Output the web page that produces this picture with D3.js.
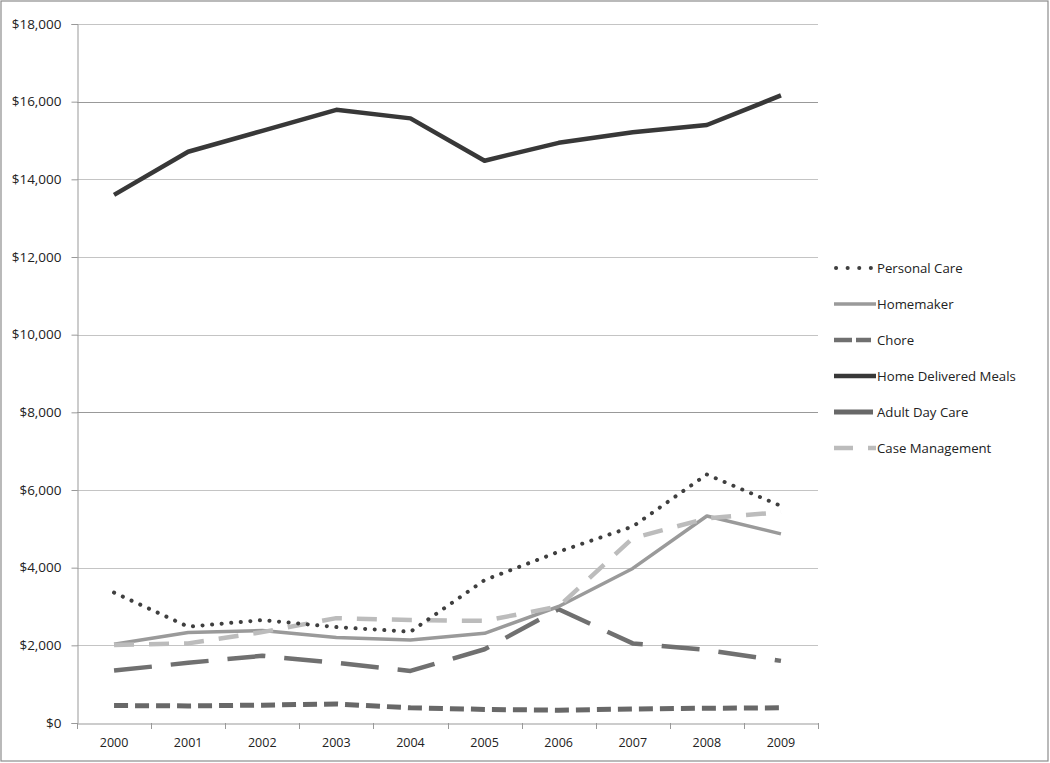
<!DOCTYPE html>
<html><head><meta charset="utf-8">
<script src="https://cdn.jsdelivr.net/npm/d3@7"></script>
<style>
body{margin:0;background:#fff;}
svg{display:block;}
text{font-family:"Open Sans","Liberation Sans",sans-serif;fill:#222;}
</style></head>
<body><svg id="chart" width="1050" height="763"></svg>
<script>
const years = ["2000","2001","2002","2003","2004","2005","2006","2007","2008","2009"];
const seriesNames = ["Personal Care","Homemaker","Chore","Home Delivered Meals","Adult Day Care","Case Management"];
const personalCare = [3360,2480,2650,2470,2350,3680,4410,5060,6400,5590];
const homemaker = [2030,2330,2380,2200,2140,2310,3000,3980,5330,4870];
const chore = [1350,1550,1730,1550,1340,1900,2930,2050,1880,1600];
const homeDeliveredMeals = [13600,14710,15250,15790,15570,14480,14940,15210,15400,16160];
const adultDayCare = [450,440,460,490,390,350,330,360,380,390];
const caseManagement = [2010,2050,2340,2700,2650,2630,3000,4760,5270,5430];
const yTicks = [0,2000,4000,6000,8000,10000,12000,14000,16000,18000];

const values = [personalCare, homemaker, chore, homeDeliveredMeals, adultDayCare, caseManagement];
const styles = [
  {color:"#3f3f3f", width:4, dash:"0.1,9.5", cap:"round", legDash:"0.1,11.5", legX1:836, legX2:872},
  {color:"#9a9a9a", width:3.5, dash:null, cap:"butt", legDash:null, legX1:834, legX2:876},
  {color:"#707070", width:4.5, dash:"38,19", cap:"butt", legDash:"18,4", legX1:834, legX2:871},
  {color:"#383838", width:4.5, dash:null, cap:"butt", legDash:null, legX1:834, legX2:876},
  {color:"#686868", width:5, dash:"14,7", cap:"butt", legDash:null, legX1:834, legX2:873},
  {color:"#bcbcbc", width:4.5, dash:"20,15", cap:"butt", legDash:"19,15", legX1:834, legX2:876}
];

const svg = d3.select("#chart");
const m = {left:77, right:818, top:24, bottom:723};

svg.append("rect").attr("x",1).attr("y",1).attr("width",1047).attr("height",760)
  .attr("fill","none").attr("stroke","#8c8c8c").attr("stroke-width",1.2);

const x = d3.scaleBand().domain(years).range([m.left, m.right]);
const y = d3.scaleLinear().domain([0,18000]).range([m.bottom, m.top]);

// gridlines
svg.append("g").selectAll("line").data(yTicks.filter(d=>d>0)).join("line")
  .attr("x1",m.left).attr("x2",m.right)
  .attr("y1",d=>Math.round(y(d))+0.5).attr("y2",d=>Math.round(y(d))+0.5)
  .attr("stroke",d=> (d===16000||d===8000) ? "#999" : "#c4c4c4").attr("stroke-width",1);

// y axis
const yAxis = svg.append("g").attr("transform",`translate(${m.left+0.5},0)`)
  .call(d3.axisLeft(y).tickValues(yTicks).tickSize(6).tickPadding(10)
    .tickFormat(d=>"$"+d3.format(",")(d)));
yAxis.select(".domain").attr("stroke","#999");
yAxis.selectAll(".tick line").attr("stroke","#999");
yAxis.selectAll("text").attr("font-size",13.5).attr("fill","#222")
  .style("font-family",'"Open Sans","Liberation Sans",sans-serif');

// x axis
const xAxis = svg.append("g").attr("transform",`translate(0,${m.bottom+0.5})`)
  .call(d3.axisBottom(x).tickSize(0).tickPadding(15));
xAxis.select(".domain").attr("stroke","#999");
xAxis.selectAll("text").attr("font-size",12.5).attr("fill","#222")
  .style("font-family",'"Open Sans","Liberation Sans",sans-serif');
const bounds = years.map(d=>x(d)).concat([m.right]);
svg.append("g").selectAll("line").data(bounds).join("line")
  .attr("x1",d=>Math.round(d)+0.5).attr("x2",d=>Math.round(d)+0.5)
  .attr("y1",m.bottom).attr("y2",m.bottom+6).attr("stroke","#999");

// lines
const line = d3.line().x((d,i)=>x(years[i])+x.bandwidth()/2).y(d=>y(d));
const drawOrder = [4,2,1,5,0,3];
drawOrder.forEach(k=>{
  const s = styles[k];
  svg.append("path").datum(values[k]).attr("d",line)
    .attr("fill","none").attr("stroke",s.color).attr("stroke-width",s.width)
    .attr("stroke-linecap",s.cap).attr("stroke-linejoin","round")
    .attr("stroke-dasharray",s.dash);
});

// legend
const lg = svg.append("g");
seriesNames.forEach((name,i)=>{
  const s = styles[i];
  const yy = 268 + i*36;
  lg.append("line").attr("x1",s.legX1).attr("x2",s.legX2).attr("y1",yy).attr("y2",yy)
    .attr("stroke",s.color).attr("stroke-width",s.width)
    .attr("stroke-linecap",s.cap).attr("stroke-dasharray",s.legDash);
  lg.append("text").attr("x",877).attr("y",yy).attr("dy","0.35em")
    .attr("font-size",13.2).text(name);
});
</script></body></html>
